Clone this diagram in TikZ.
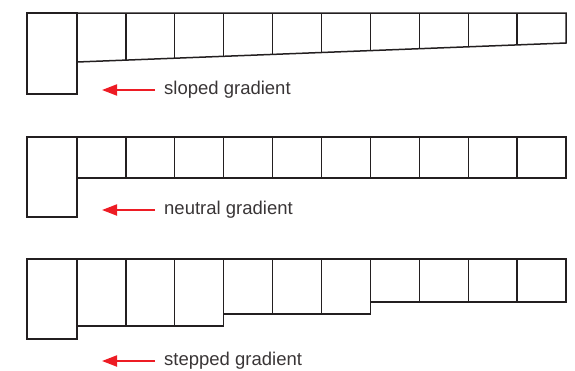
\documentclass[tikz,border=0pt]{standalone}
\usepackage{fontspec}
\setmainfont{Liberation Sans}
\usetikzlibrary{arrows.meta}
\definecolor{linec}{HTML}{231F20}
\definecolor{arrowred}{HTML}{ED1C24}
\begin{document}
\begin{tikzpicture}[x=1pt,y=-1pt,
  box/.style={draw=linec, line width=1.5pt, line join=miter},
  divider/.style={draw=linec, line width=1.3pt},
  redarrow/.style={draw=arrowred, line width=2pt, -{Triangle[length=15pt,width=11pt]}},
  caption/.style={anchor=west, inner sep=0pt, text=linec!90, font=\fontsize{18.5}{18.5}\selectfont}]
\useasboundingbox (0,0) rectangle (575,370);
% ---------- sloped ----------
\draw[box] (27,13) rectangle (77,94);
\draw[box] (77,13) -- (566,13) -- (566,43) -- (77,62);
\foreach \i in {1,...,9}{
  \pgfmathsetmacro{\xx}{77+48.9*\i}
  \pgfmathsetmacro{\yy}{62-19*(\xx-77)/489}
  \draw[divider] (\xx,13) -- (\xx,\yy);
}
\node[caption] (t1) at (164,90) {sloped gradient};
\coordinate (a1) at (102,90);
\draw[redarrow] ([xshift=-9pt]t1.west) -- (a1);
% ---------- neutral ----------
\draw[box] (27,137) rectangle (77,217);
\draw[box] (77,137) -- (566,137) -- (566,178) -- (77,178);
\foreach \i in {1,...,9}{
  \pgfmathsetmacro{\xx}{77+48.9*\i}
  \draw[divider] (\xx,137) -- (\xx,178);
}
\node[caption] (t2) at (164,210) {neutral gradient};
\coordinate (a2) at (102,210);
\draw[redarrow] ([xshift=-9pt]t2.west) -- (a2);
% ---------- stepped ----------
\draw[box] (27,259) rectangle (77,339);
\draw[box] (77,259) -- (566,259) -- (566,302) -- (370.4,302) -- (370.4,314) -- (223.7,314) -- (223.7,326) -- (77,326);
\foreach \xx/\yy in {125.9/326,174.8/326,223.7/314,272.6/314,321.5/314,370.4/302,419.3/302,468.2/302,517.1/302}{
  \draw[divider] (\xx,259) -- (\xx,\yy);
}
\node[caption] (t3) at (164,361) {stepped gradient};
\coordinate (a3) at (102,361);
\draw[redarrow] ([xshift=-9pt]t3.west) -- (a3);
\end{tikzpicture}
\end{document}
